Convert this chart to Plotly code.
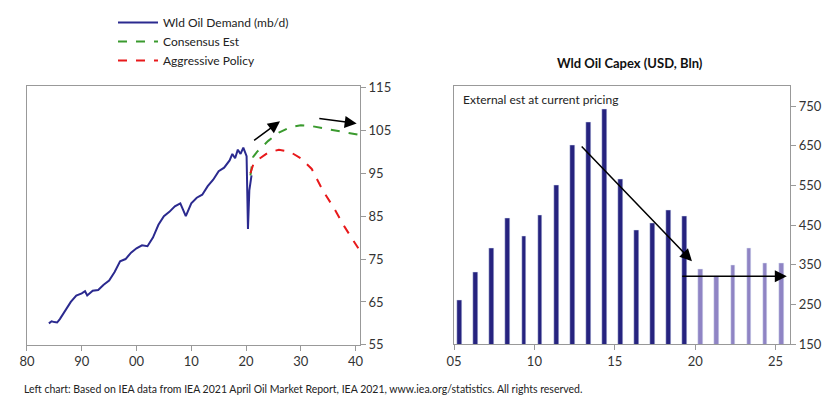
import plotly.graph_objects as go

demand_x = [1984, 1984.5, 1985, 1985.5, 1986, 1987, 1988, 1989, 1990, 1990.6, 1991, 1992, 1993, 1994, 1995, 1996, 1997, 1998, 1999,
            2000, 2001, 2002, 2003, 2004, 2005, 2006, 2007, 2008, 2008.6, 2009, 2010, 2011, 2012, 2013, 2014,
            2015, 2016, 2017, 2017.5, 2018, 2018.5, 2019, 2019.5, 2020.1, 2020.35, 2020.6, 2021]
demand_y = [60, 60.5, 60.3, 60.2, 61, 63, 65, 66.5, 67, 67.5, 66.5, 67.6, 67.8, 69, 70, 72, 74.5, 75, 76.5,
            77.5, 78.2, 78, 80, 83, 85, 86, 87.3, 88, 86, 85, 88, 89.3, 90, 92, 93.5,
            95.5, 96.3, 98, 99.5, 98.5, 100.5, 99.5, 101, 99, 82, 91, 94.5]
cons_x = [2020.8, 2021.3, 2022, 2024, 2026, 2028, 2030, 2032, 2034, 2036, 2038, 2040.5]
cons_y = [94.5, 98.8, 100, 102.5, 104.5, 105.7, 106.2, 106, 105.5, 105, 104.6, 104]
aggr_x = [2020.8, 2021.3, 2022, 2024, 2026, 2028, 2030, 2032, 2034, 2036, 2038, 2040.5]
aggr_y = [95, 97, 98, 99.8, 100.5, 100, 98.5, 96, 91, 87, 82.5, 77.5]

capex_years = list(range(2005, 2026))
capex_vals = [260, 330, 392, 467, 423, 475, 550, 652, 710, 742, 565, 438, 455, 488, 472,
              338, 322, 350, 392, 355, 355]
capex_colors = ['#26237f'] * 15 + ['#8f84c4'] * 6

fig = go.Figure()
fig.add_trace(go.Scatter(x=demand_x, y=demand_y, mode='lines', name='Wld Oil Demand (mb/d)',
                         line=dict(color='#2b2a8f', width=2), xaxis='x', yaxis='y'))
fig.add_trace(go.Scatter(x=cons_x, y=cons_y, mode='lines', name='Consensus Est',
                         line=dict(color='#3a9a2e', width=2, dash='dash'), xaxis='x', yaxis='y'))
fig.add_trace(go.Scatter(x=aggr_x, y=aggr_y, mode='lines', name='Aggressive Policy',
                         line=dict(color='#e8191b', width=2, dash='dash'), xaxis='x', yaxis='y'))
fig.add_trace(go.Bar(x=[y + 0.35 for y in capex_years], y=capex_vals, marker_color=capex_colors,
                     width=0.3, showlegend=False, xaxis='x2', yaxis='y2'))

ax = dict(showline=True, mirror=True, linecolor='#999', linewidth=1, showgrid=False, zeroline=False,
          ticks='outside', tickcolor='#999', ticklen=5, tickfont=dict(size=13, color='#333'), automargin=False)
fig.update_layout(
    width=840, height=401, margin=dict(l=0, r=0, t=0, b=0, autoexpand=False),
    plot_bgcolor='white', paper_bgcolor='white',
    font=dict(family='Lato, sans-serif', color='#222'),
    xaxis=dict(ax, domain=[0.0226, 0.419], range=[1980, 2040.8], tickvals=[1980, 1990, 2000, 2010, 2020, 2030, 2040],
               ticktext=['80', '90', '00', '10', '20', '30', '40']),
    yaxis=dict(ax, domain=[0.16, 0.805], range=[55, 115.3], side='right', tickvals=[55, 65, 75, 85, 95, 105, 115]),
    xaxis2=dict(ax, domain=[0.531, 0.931], range=[2005, 2025.9], tickvals=[2005, 2010, 2015, 2020, 2025],
                ticktext=['05', '10', '15', '20', '25'], anchor='y2'),
    yaxis2=dict(ax, domain=[0.162, 0.805], range=[150, 800], side='right', anchor='x2',
                tickvals=[150, 250, 350, 450, 550, 650, 750]),
    bargap=0,
    legend=dict(x=0.125, y=1.0, xanchor='left', yanchor='top', font=dict(size=12, color='#222'),
                tracegroupgap=0, itemwidth=40, bgcolor='rgba(0,0,0,0)'),
    showlegend=True,
)
arrow = dict(showarrow=True, arrowhead=2, arrowsize=1.6, arrowwidth=1.5, arrowcolor='black', text='',
             axref='x', ayref='y')
anns = [
    dict(arrow, x=2026.2, y=107.1, ax=2021.2, ay=102.4, xref='x', yref='y'),
    dict(arrow, x=2040.2, y=106.6, ax=2033.1, ay=107.8, xref='x', yref='y'),
    dict(arrow, x=2019.8, y=359, ax=2012.85, ay=652, xref='x2', yref='y2', axref='x2', ayref='y2'),
    dict(arrow, x=2025.7, y=321, ax=2019.1, ay=321, xref='x2', yref='y2', axref='x2', ayref='y2'),
    dict(text='External est at current pricing', x=0.539, y=0.795, xref='paper', yref='paper',
         xanchor='left', yanchor='top', showarrow=False, font=dict(size=12, color='#222')),
    dict(text='<b>Wld Oil Capex (USD, Bln)</b>', x=0.74, y=0.862, xref='paper', yref='paper',
         xanchor='center', yanchor='middle', showarrow=False, font=dict(size=13, color='#111')),
    dict(text='Left chart: Based on IEA data from IEA 2021 April Oil Market Report, IEA 2021, www.iea.org/statistics. All rights reserved.',
         x=0.017, y=0.05, xref='paper', yref='paper', xanchor='left', yanchor='middle', showarrow=False,
         font=dict(size=10.5, color='#222')),
]
fig.update_layout(annotations=anns)
fig.write_html('out.html')
